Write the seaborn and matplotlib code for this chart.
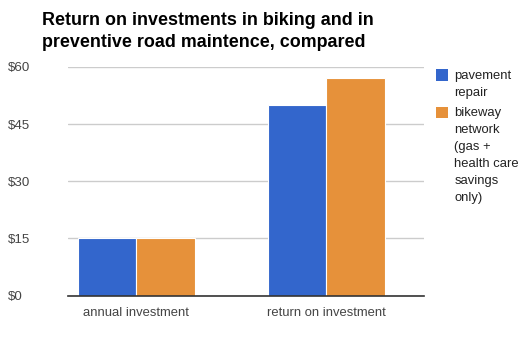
import matplotlib
matplotlib.use("Agg")
import matplotlib.pyplot as plt
import seaborn as sns
import pandas as pd

categories = ["annual investment", "return on investment"]
series_names = ["pavement\nrepair", "bikeway\nnetwork\n(gas +\nhealth care\nsavings\nonly)"]
pavement_repair = [15, 50]
bikeway_network = [15, 57]
y_ticks = [0, 15, 30, 45, 60]
y_tick_labels = ["$0", "$15", "$30", "$45", "$60"]

df = pd.DataFrame({
    "category": categories * 2,
    "series": [series_names[0]] * 2 + [series_names[1]] * 2,
    "value": pavement_repair + bikeway_network,
})

sns.set_theme(style="white")
plt.rcParams["font.family"] = ["Liberation Sans", "DejaVu Sans"]

W, H = 523, 337
fig = plt.figure(figsize=(W / 100, H / 100), dpi=100)
plot_h = 295.5 - 67
ax = fig.add_axes([68 / W, 1 - 295.5 / H, (424 - 68) / W, plot_h / H])

palette = ["#3366CC", "#E6913A"]
sns.barplot(data=df, x="category", y="value", hue="series", palette=palette,
            width=0.62, saturation=1, edgecolor="white", linewidth=0.8,
            ax=ax, legend=True)

ax.set_xlim(-0.36, 1.513)
ax.set_ylim(0, 60)
ax.set_yticks(y_ticks)
ax.set_yticklabels(y_tick_labels)
ax.yaxis.grid(True, color="#cccccc", linewidth=1)
ax.set_axisbelow(True)
ax.set_xlabel("")
ax.set_ylabel("")
for side in ["top", "right", "left"]:
    ax.spines[side].set_visible(False)
ax.spines["bottom"].set_color("#333333")
ax.spines["bottom"].set_linewidth(1.2)
ax.tick_params(axis="x", length=0, labelsize=9.4, labelcolor="#444444", pad=8)
ax.tick_params(axis="y", length=0, labelsize=9.6, labelcolor="#444444", pad=43)
for lbl in ax.get_yticklabels():
    lbl.set_horizontalalignment("left")

leg = ax.legend(loc="upper left",
                bbox_to_anchor=((436 - 68) / (424 - 68), 1.0 - 2.5 / plot_h),
                frameon=False, fontsize=9.4, handlelength=0.95, handleheight=0.95,
                handletextpad=0.45, labelspacing=0.65, borderaxespad=0, borderpad=0)
for t in leg.get_texts():
    t.set_color("#222222")
    t.set_linespacing(1.56)
for h in leg.legend_handles:
    h.set_edgecolor("none")
# put each swatch beside the first line of its label
for column in leg._legend_handle_box.get_children():
    for row in column.get_children():
        row.align = "top"

fig.text(42 / W, 1 - 12 / H, "Return on investments in biking and in\npreventive road maintence, compared",
         ha="left", va="top", fontsize=12.85, fontweight="bold", color="#000000",
         linespacing=1.42)

fig.savefig("out.png", dpi=100)
